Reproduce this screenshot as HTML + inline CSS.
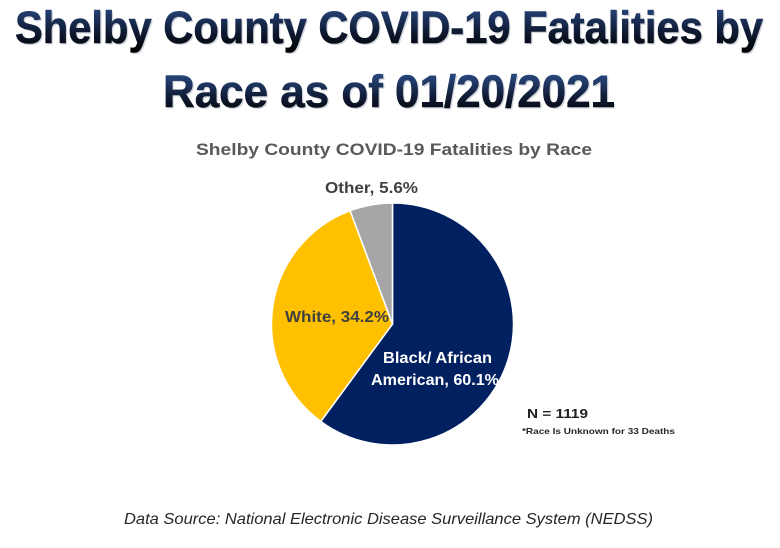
<!DOCTYPE html>
<html>
<head>
<meta charset="utf-8">
<style>
  html,body{margin:0;padding:0;background:#fff;}
  svg{display:block;}
  text{font-family:"Liberation Sans",sans-serif;}
</style>
</head>
<body>
<svg width="780" height="548" viewBox="0 0 780 548" xmlns="http://www.w3.org/2000/svg">
  <defs>
    <linearGradient id="g1" gradientUnits="userSpaceOnUse" x1="0" y1="8" x2="0" y2="52">
      <stop offset="0" stop-color="#27457a"/>
      <stop offset="0.5" stop-color="#111d38"/>
      <stop offset="1" stop-color="#000000"/>
    </linearGradient>
    <linearGradient id="g2" gradientUnits="userSpaceOnUse" x1="0" y1="76" x2="0" y2="116">
      <stop offset="0" stop-color="#27457a"/>
      <stop offset="0.5" stop-color="#111d38"/>
      <stop offset="1" stop-color="#000000"/>
    </linearGradient>
  </defs>
  <rect width="780" height="548" fill="#fff"/>

  <!-- Title -->
  <g font-weight="bold" font-size="45">
    <text x="16.5" y="44.5" textLength="748" lengthAdjust="spacingAndGlyphs" fill="#9aa3b0" opacity="0.45">Shelby County COVID-19 Fatalities by</text>
    <text x="15" y="43" textLength="748" lengthAdjust="spacingAndGlyphs" fill="url(#g1)" stroke="url(#g1)" stroke-width="0.6">Shelby County COVID-19 Fatalities by</text>
    <text x="164.5" y="108.5" textLength="452" lengthAdjust="spacingAndGlyphs" fill="#9aa3b0" opacity="0.45">Race as of 01/20/2021</text>
    <text x="163" y="107" textLength="452" lengthAdjust="spacingAndGlyphs" fill="url(#g2)" stroke="url(#g2)" stroke-width="0.6">Race as of 01/20/2021</text>
  </g>

  <!-- Subtitle -->
  <text x="196" y="155" font-size="17" font-weight="bold" fill="#595959" textLength="396" lengthAdjust="spacingAndGlyphs">Shelby County COVID-19 Fatalities by Race</text>

  <!-- Pie -->
  <g stroke="#ffffff" stroke-width="1.5" stroke-linejoin="round">
    <path d="M392.5,324 L392.5,203 A121,121 0 1 1 320.76,421.44 Z" fill="#002060"/>
    <path d="M392.5,324 L320.76,421.44 A121,121 0 0 1 350.09,210.67 Z" fill="#FFC000"/>
    <path d="M392.5,324 L350.09,210.67 A121,121 0 0 1 392.5,203 Z" fill="#A6A6A6"/>
  </g>

  <!-- Labels -->
  <g font-weight="bold" font-size="16">
    <text x="325" y="193" fill="#404040" textLength="93" lengthAdjust="spacingAndGlyphs">Other, 5.6%</text>
    <text x="285" y="322" fill="#404040" textLength="104" lengthAdjust="spacingAndGlyphs">White, 34.2%</text>
    <text x="383" y="363" fill="#ffffff" textLength="109" lengthAdjust="spacingAndGlyphs">Black/ African</text>
    <text x="371" y="385" fill="#ffffff" textLength="128" lengthAdjust="spacingAndGlyphs">American, 60.1%</text>
  </g>

  <!-- N note -->
  <text x="527" y="418" font-size="12.5" font-weight="bold" fill="#1f1f1f" textLength="61" lengthAdjust="spacingAndGlyphs">N = 1119</text>
  <text x="522" y="434" font-size="8.5" font-weight="bold" fill="#262626" textLength="153" lengthAdjust="spacingAndGlyphs">*Race Is Unknown for 33 Deaths</text>

  <!-- Footer -->
  <text x="124" y="524" font-size="16" font-style="italic" fill="#262626" textLength="529" lengthAdjust="spacingAndGlyphs">Data Source: National Electronic Disease Surveillance System (NEDSS)</text>
</svg>
</body>
</html>
